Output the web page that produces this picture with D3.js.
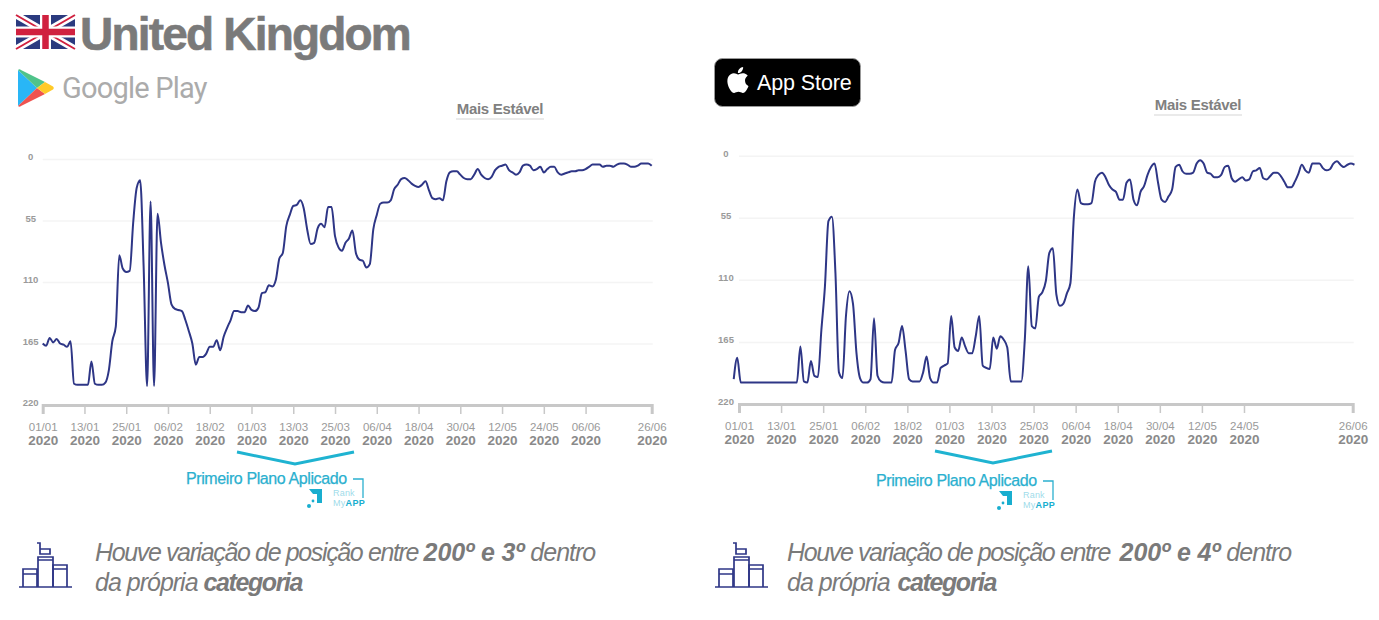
<!DOCTYPE html>
<html>
<head>
<meta charset="utf-8">
<script src="https://cdn.jsdelivr.net/npm/d3@7"></script>
<style>
  body { margin: 0; background: #fff; }
  text { font-family: "Liberation Sans", Arial, sans-serif; }
</style>
</head>
<body>
<script>
//rank values, one per day
var googlePlayRank = [
  165,167,160,164,161,165,166,168,163,201,202,202,202,202,181,201,202,202,200,189,
  163,150,86,98,101,100,57,26,19,96,203,38,203,49,75,95,111,130,134,135,
  136,144,154,165,184,177,177,174,168,168,162,171,159,151,144,136,136,137,137,131,
  135,136,133,120,119,113,114,108,89,84,60,50,42,41,37,44,63,76,75,62,
  58,61,43,43,69,79,82,75,71,64,84,90,91,97,94,63,50,40,39,39,
  37,27,23,18,17,19,22,24,25,23,20,28,35,36,35,37,20,12,11,11,
  14,17,18,18,14,9,14,17,18,16,10,7,6,5,10,12,14,12,6,5,
  6,10,9,7,12,9,7,7,12,14,13,12,11,11,10,10,9,7,5,5,
  5,7,6,6,7,5,4,4,5,7,7,6,4,4,4,6
];

var appStoreRank = [
  198,179,201,201,201,201,201,201,201,201,201,201,201,201,201,201,201,201,201,169,
  200,201,182,195,196,154,116,58,54,104,192,197,142,120,131,175,197,201,201,198,
  144,195,200,201,201,201,172,166,151,173,198,200,200,200,192,178,197,201,201,188,
  186,184,142,170,173,161,169,175,175,160,142,186,188,189,161,171,160,163,170,200,
  200,200,200,163,98,151,153,125,121,111,86,82,123,133,131,122,113,54,30,42,
  43,43,42,23,17,15,19,26,30,32,39,39,24,21,39,44,32,27,17,10,
  7,24,39,41,36,30,10,8,14,16,16,15,7,4,7,15,16,19,19,17,
  10,9,20,23,21,19,22,21,14,13,11,20,21,18,15,15,18,23,28,28,
  23,16,8,13,15,7,7,7,11,13,12,7,5,8,10,8,7,8
];

//tick positions are day numbers counted from 01/01
var rankTicks = [0, 55, 110, 165, 220];
var googlePlayTickDays = [0, 12, 24, 36, 48, 60, 72, 84, 96, 108, 120, 132, 144, 156, 175];
var googlePlayTickLabels = ["01/01","13/01","25/01","06/02","18/02","01/03","13/03","25/03","06/04","18/04","30/04","12/05","24/05","06/06","26/06"];
var appStoreTickDays = [0, 12, 24, 36, 48, 60, 72, 84, 96, 108, 120, 132, 144, 175];
var appStoreTickLabels = ["01/01","13/01","25/01","06/02","18/02","01/03","13/03","25/03","06/04","18/04","30/04","12/05","24/05","26/06"];

var inkBlue = "#2e3686",
    teal = "#2bb0cf",
    darkGrey = "#7a7a7a",
    tickGrey = "#9a9a9a";

var svg = d3.select("body")
    .append("svg")
    .attr("width", 1379)
    .attr("height", 620)
    .style("display", "block");

//one chart panel
function drawChart(opts){
    var x = d3.scaleLinear().domain([0, 175]).range(opts.xRange);
    var y = d3.scaleLinear().domain([0, 220]).range(opts.yRange);

    var g = svg.append("g");

    //gridlines and rank labels
    var yAxis = g.append("g")
        .attr("transform", "translate(" + opts.xRange[0] + ",0)")
        .call(d3.axisLeft(y).tickValues(rankTicks).tickSize(-(opts.xRange[1] - opts.xRange[0]) - 1));
    yAxis.select(".domain").remove();
    yAxis.selectAll("line").attr("stroke", "#f4f4f4").attr("stroke-width", 1.5);
    yAxis.selectAll("text")
        .attr("x", opts.labelX)
        .attr("dy", "0.1em")
        .attr("text-anchor", "middle")
        .attr("fill", tickGrey)
        .attr("font-size", 9.5)
        .attr("font-weight", "bold");

    //date axis, the labels get two lines
    var xAxis = g.append("g")
        .attr("transform", "translate(0," + opts.yRange[1] + ")")
        .call(d3.axisBottom(x).tickValues(opts.tickDays).tickSize(9).tickFormat(function(d){
            return opts.tickLabels[opts.tickDays.indexOf(d)];
        }));
    xAxis.select(".domain").attr("stroke", "#c8c8c8").attr("stroke-width", 3);
    xAxis.selectAll("line").attr("stroke", "#c8c8c8").attr("stroke-width", 1.5);
    xAxis.selectAll("text")
        .attr("y", 26)
        .attr("dy", 0)
        .attr("fill", tickGrey)
        .attr("font-size", 11.5)
        .attr("font-family", "'Liberation Sans'")
        .each(function(){
            d3.select(this).append("tspan")
                .attr("x", 0)
                .attr("dy", 13.5)
                .attr("font-weight", "bold")
                .attr("font-size", 13.5)
                .attr("fill", "#8a8a8a")
                .text("2020");
        });

    //rank line
    var line = d3.line()
        .x(function(d, i){ return x(i + opts.startDay); })
        .y(function(d){ return y(d); })
        .curve(d3.curveMonotoneX);

    g.append("path")
        .datum(opts.values)
        .attr("fill", "none")
        .attr("stroke", inkBlue)
        .attr("stroke-width", 2)
        .attr("stroke-linejoin", "round")
        .attr("d", line);

    //Mais Estavel label
    g.append("text")
        .attr("x", opts.stableX)
        .attr("y", opts.stableY)
        .attr("text-anchor", "middle")
        .attr("fill", "#808080")
        .attr("font-size", 15)
        .attr("font-weight", "bold")
        .attr("letter-spacing", -0.3)
        .text("Mais Estável");
    g.append("line")
        .attr("x1", opts.stableX - 44).attr("x2", opts.stableX + 44)
        .attr("y1", opts.stableY + 5).attr("y2", opts.stableY + 5)
        .attr("stroke", "#d5d5d5");

    //teal bracket pointing at the plan label
    var b = opts.bracket;
    g.append("path")
        .attr("d", "M" + b[0] + "," + b[1] + "L" + (b[0] + 58) + "," + (b[1] + 12) + "L" + (b[0] + 117) + "," + b[1])
        .attr("fill", "none")
        .attr("stroke", "#1fb3d1")
        .attr("stroke-width", 3);

    g.append("text")
        .attr("x", opts.planX)
        .attr("y", opts.planY)
        .attr("fill", teal)
        .attr("stroke", teal)
        .attr("stroke-width", 0.25)
        .attr("font-size", 16)
        .attr("letter-spacing", -0.4)
        .text("Primeiro Plano Aplicado");

    drawRankLogo(opts.planX + 168, opts.planY);
    drawNote(opts);
}

//RankMyApp mark next to the plan label
function drawRankLogo(px, py){
    var l = svg.append("g").attr("transform", "translate(" + px + "," + py + ")");
    l.append("path").attr("d", "M-1,-5H9V14").attr("fill", "none").attr("stroke", teal).attr("stroke-width", 1.3);
    l.append("path").attr("d", "M-45,5H-32V19H-37V10H-41Z").attr("fill", "#19aecf");
    l.append("circle").attr("cx", -41).attr("cy", 17).attr("r", 1.4).attr("fill", "#19aecf");
    l.append("circle").attr("cx", -45).attr("cy", 22).attr("r", 2).attr("fill", "#19aecf");
    l.append("text").attr("x", -21).attr("y", 12).attr("font-size", 9).attr("letter-spacing", 0.2)
        .attr("fill", "#9fdcea").text("Rank");
    var my = l.append("text").attr("x", -21).attr("y", 22).attr("font-size", 9).attr("letter-spacing", 0.3)
        .attr("fill", "#9fdcea").text("My");
    my.append("tspan").attr("font-weight", "bold").attr("fill", "#19aecf").text("APP");
}

//cart icon and the sentence under each chart
function drawNote(opts){
    var icon = svg.append("g")
        .attr("transform", "translate(" + opts.noteIconX + ",0)")
        .attr("fill", "none")
        .attr("stroke", inkBlue)
        .attr("stroke-width", 1.7);
    icon.append("path").attr("d", "M-1,587H52");
    icon.append("path").attr("d", "M3,587V569H17V587M3,574H17");
    icon.append("path").attr("d", "M18,587V557H33V587M18,560H33");
    icon.append("path").attr("d", "M33,587V565H47V587M33,569H47");
    icon.append("path").attr("d", "M17,543H20V554H30V549H20");

    var t = svg.append("g")
        .attr("fill", darkGrey)
        .attr("font-size", 25)
        .attr("letter-spacing", -1)
        .attr("font-style", "italic");
    var first = t.append("text").attr("x", opts.noteX).attr("y", 561);
    first.append("tspan").attr("letter-spacing", -1.37).text("Houve variação de posição entre ");
    first.append("tspan").attr("font-weight", "bold").attr("letter-spacing", -0.1).attr("dx", opts.noteGap).text("200º e " + opts.bestRank + "º");
    first.append("tspan").text(" dentro");
    var second = t.append("text").attr("x", opts.noteX).attr("y", 591);
    second.append("tspan").text("da própria ");
    second.append("tspan").attr("font-weight", "bold").attr("letter-spacing", -1.4).attr("dx", opts.noteGap / 2).text("categoria");
}

//header: flag and country name
var flag = svg.append("g").attr("transform", "translate(16,15)");
flag.append("rect").attr("width", 59).attr("height", 34).attr("fill", "#2b3a7f");
flag.append("path").attr("d", "M0,0L59,34M59,0L0,34").attr("stroke", "#fff").attr("stroke-width", 7);
flag.append("path").attr("d", "M0,0L59,34M59,0L0,34").attr("stroke", "#d0213f").attr("stroke-width", 2);
flag.append("path").attr("d", "M29.5,0V34M0,17H59").attr("stroke", "#fff").attr("stroke-width", 11);
flag.append("path").attr("d", "M29.5,0V34M0,17H59").attr("stroke", "#d0213f").attr("stroke-width", 6.5);

svg.append("text")
    .attr("x", 80)
    .attr("y", 50)
    .attr("fill", darkGrey)
    .attr("stroke", darkGrey)
    .attr("stroke-width", 0.6)
    .attr("font-size", 46)
    .attr("font-weight", "bold")
    .attr("letter-spacing", -1.8)
    .text("United Kingdom");

//Google Play logo
var play = svg.append("g").attr("transform", "translate(18,69)");
play.append("path").attr("d", "M0,1V37L19,19Z").attr("fill", "#29b6f6");
play.append("path").attr("d", "M0,1C1,0 2,0 3,1L27,13L19,19Z").attr("fill", "#4fc38a");
play.append("path").attr("d", "M0,37C1,38 2,38 3,37L27,25L19,19Z").attr("fill", "#ef5350");
play.append("path").attr("d", "M27,13L35,17.5C36,18.5 36,19.5 35,20.5L27,25L19,19Z").attr("fill", "#ffca28");

svg.append("text")
    .attr("x", 62)
    .attr("y", 98)
    .attr("fill", "#ababab")
    .attr("font-size", 29)
    .attr("letter-spacing", -0.8)
    .style("font-family", "Roboto")
    .text("Google Play");

//App Store badge
svg.append("rect")
    .attr("x", 714.5).attr("y", 58.5)
    .attr("width", 146).attr("height", 48)
    .attr("rx", 8)
    .attr("fill", "#000")
    .attr("stroke", "#999");
svg.append("path")
    .attr("transform", "translate(725,67) scale(1.08)")
    .attr("fill", "#fff")
    .attr("d", "M12.152 6.896c-.948 0-2.415-1.078-3.96-1.04-2.04.027-3.91 1.183-4.961 3.014-2.117 3.675-.546 9.103 1.519 12.09 1.013 1.454 2.208 3.09 3.792 3.039 1.52-.065 2.09-.987 3.935-.987 1.831 0 2.35.987 3.96.948 1.637-.026 2.676-1.48 3.676-2.948 1.156-1.688 1.636-3.325 1.662-3.415-.039-.013-3.182-1.221-3.22-4.857-.026-3.04 2.48-4.494 2.597-4.559-1.429-2.09-3.623-2.324-4.39-2.376-2-.156-3.675 1.09-4.61 1.09zM15.53 3.83c.843-1.012 1.4-2.427 1.245-3.83-1.207.052-2.662.805-3.532 1.818-.78.896-1.454 2.338-1.273 3.714 1.338.104 2.715-.688 3.559-1.701");
svg.append("text")
    .attr("x", 757)
    .attr("y", 89.5)
    .attr("fill", "#fff")
    .attr("font-size", 21.5)
    .attr("letter-spacing", -0.1)
    .text("App Store");

//the two panels
drawChart({
    values: googlePlayRank,
    startDay: 0,
    tickDays: googlePlayTickDays,
    tickLabels: googlePlayTickLabels,
    xRange: [42.7, 651.7],
    yRange: [159, 405],
    labelX: -12,
    stableX: 500,
    stableY: 114,
    bracket: [237, 452],
    planX: 186,
    planY: 484,
    noteX: 95,
    noteIconX: 20,
    noteGap: 0,
    bestRank: 3
});

drawChart({
    values: appStoreRank,
    startDay: -1.5,
    tickDays: appStoreTickDays,
    tickLabels: appStoreTickLabels,
    xRange: [739, 1352.7],
    yRange: [155.7, 404],
    labelX: -13,
    stableX: 1198,
    stableY: 110,
    bracket: [935, 451],
    planX: 876,
    planY: 486,
    noteX: 787,
    noteIconX: 716,
    noteGap: 4,
    bestRank: 4
});
</script>
</body>
</html>
